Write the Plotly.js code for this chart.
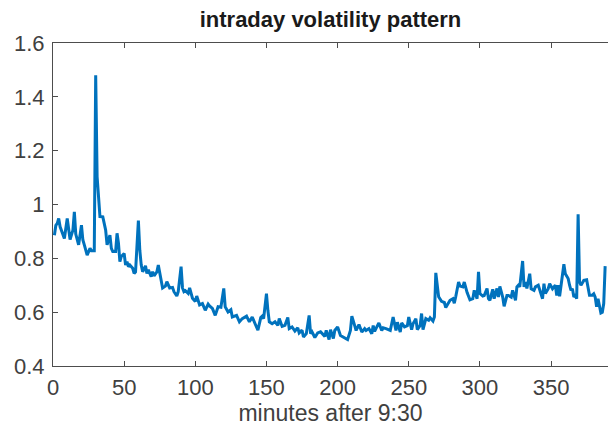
<!DOCTYPE html>
<html>
<head>
<meta charset="utf-8">
<script src="https://cdn.plot.ly/plotly-3.0.1.min.js"></script>
<style>
html,body{margin:0;padding:0;overflow:hidden;background:#fff;}
#chart{width:608px;height:426px;}
</style>
</head>
<body>
<div id="chart"></div>
<script>
const minutes = [1,2,3,4,5,7,8,10,11,12,14,15,16,17,18,20,21,22,24,26,27,29,30,31,33,35,37,38,40,41,42,44,45,46,47,48,50,51,52,53,54,56,57,58,60,61,62,63,65,66,67,69,70,71,73,74,76,77,79,80,82,84,85,87,88,90,91,92,93,95,96,98,100,101,103,105,107,109,110,112,114,116,118,120,121,123,125,126,129,131,133,136,138,140,142,144,146,147,148,150,151,152,154,156,158,159,161,163,165,166,168,170,172,173,175,176,178,180,181,182,184,186,188,191,192,194,195,197,198,200,202,203,205,207,209,210,212,213,215,217,219,220,222,224,225,226,228,229,231,232,234,236,237,239,241,242,244,245,247,249,250,252,253,255,256,258,259,260,262,264,265,267,268,269,271,273,275,276,278,279,281,282,283,285,286,288,289,291,293,295,296,297,298,299,300,302,303,305,306,307,309,310,312,313,314,316,317,319,320,322,323,325,326,327,328,330,331,332,333,335,336,338,339,341,342,344,345,346,348,349,351,353,354,355,356,358,359,360,362,363,364,365,366,367,368,369,370,371,373,375,376,377,379,380,381,382,383,384,385,386,387,388];
const volatility = [0.886,0.923,0.93,0.948,0.917,0.886,0.874,0.948,0.9,0.87,0.905,0.973,0.89,0.868,0.85,0.923,0.868,0.85,0.812,0.837,0.828,0.828,1.48,1.103,0.955,0.954,0.905,0.85,0.886,0.837,0.825,0.825,0.893,0.856,0.788,0.807,0.818,0.775,0.788,0.769,0.775,0.763,0.744,0.75,0.94,0.83,0.775,0.75,0.772,0.744,0.757,0.732,0.75,0.735,0.75,0.775,0.72,0.69,0.697,0.713,0.69,0.692,0.676,0.66,0.676,0.769,0.69,0.676,0.68,0.67,0.69,0.652,0.64,0.66,0.627,0.632,0.607,0.63,0.623,0.614,0.588,0.62,0.618,0.688,0.62,0.601,0.609,0.582,0.588,0.564,0.576,0.585,0.564,0.582,0.557,0.533,0.58,0.585,0.576,0.669,0.607,0.564,0.557,0.564,0.551,0.576,0.547,0.551,0.58,0.539,0.545,0.53,0.542,0.523,0.533,0.508,0.52,0.588,0.52,0.527,0.506,0.523,0.527,0.51,0.532,0.498,0.535,0.502,0.532,0.545,0.513,0.51,0.506,0.498,0.532,0.585,0.55,0.532,0.554,0.526,0.539,0.532,0.539,0.52,0.55,0.529,0.55,0.56,0.532,0.542,0.539,0.535,0.532,0.582,0.532,0.563,0.526,0.56,0.545,0.55,0.582,0.535,0.557,0.576,0.535,0.551,0.595,0.535,0.576,0.57,0.579,0.567,0.582,0.746,0.657,0.64,0.636,0.617,0.633,0.644,0.65,0.633,0.657,0.712,0.697,0.694,0.712,0.673,0.646,0.65,0.681,0.662,0.65,0.75,0.669,0.66,0.662,0.688,0.65,0.644,0.685,0.65,0.688,0.656,0.696,0.656,0.622,0.662,0.662,0.656,0.681,0.644,0.694,0.7,0.694,0.79,0.694,0.712,0.688,0.743,0.687,0.681,0.694,0.7,0.681,0.65,0.706,0.669,0.687,0.706,0.687,0.7,0.662,0.7,0.659,0.731,0.778,0.743,0.725,0.7,0.681,0.687,0.656,0.662,0.65,0.964,0.712,0.7,0.718,0.72,0.687,0.663,0.663,0.668,0.656,0.62,0.65,0.614,0.597,0.6,0.632,0.771];
const xTicks = [0,50,100,150,200,250,300,350];
const yTicks = [0.4,0.6,0.8,1.0,1.2,1.4,1.6];
const yTickText = ['0.4','0.6','0.8','1','1.2','1.4','1.6'];

const axisColor = '#4d4d4d';
const fam = '"Liberation Sans", Arial, Helvetica, sans-serif';
const tickFont = {family: fam, size: 22, color: '#404040'};
const labelFont = {family: fam, size: 23, color: '#404040'};

Plotly.newPlot('chart', [{
  x: minutes,
  y: volatility,
  type: 'scatter',
  mode: 'lines',
  line: {color: '#0072BD', width: 3},
  hoverinfo: 'skip'
}], {
  width: 608,
  height: 426,
  margin: {l: 53, r: 0, t: 43, b: 60},
  paper_bgcolor: '#fff',
  plot_bgcolor: '#fff',
  showlegend: false,
  font: tickFont,
  title: {
    text: '<b>intraday volatility pattern</b>',
    font: {family: fam, size: 22, color: '#1a1a1a'},
    x: 0.5, xref: 'paper', xanchor: 'center',
    y: 0.955, yanchor: 'middle'
  },
  xaxis: {
    range: [0, 390],
    tickvals: xTicks,
    ticktext: xTicks.map(String),
    ticks: 'inside',
    ticklen: 5,
    tickcolor: axisColor,
    showline: true,
    linecolor: axisColor,
    linewidth: 1,
    mirror: 'ticks',
    showgrid: false,
    zeroline: false,
    tickfont: tickFont,
    ticklabelstandoff: 2,
    title: {text: 'minutes after 9:30', font: labelFont, standoff: 3}
  },
  yaxis: {
    range: [0.4, 1.6],
    tickvals: yTicks,
    ticktext: yTickText,
    ticks: 'inside',
    ticklen: 5,
    tickcolor: axisColor,
    showline: true,
    linecolor: axisColor,
    linewidth: 1,
    showgrid: false,
    zeroline: false,
    tickfont: tickFont,
    ticklabelstandoff: 3
  }
}, {staticPlot: true, displayModeBar: false});
</script>
</body>
</html>
